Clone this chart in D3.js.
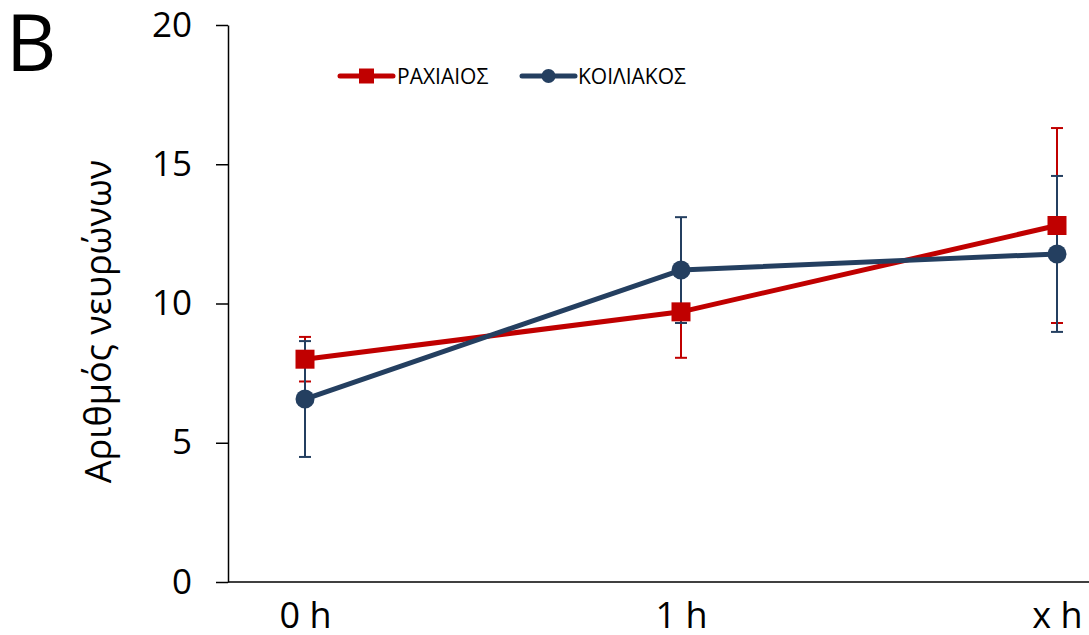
<!DOCTYPE html>
<html>
<head>
<meta charset="utf-8">
<script src="https://cdn.jsdelivr.net/npm/d3@7"></script>
<style>
  body { margin: 0; background: #fff; }
  text { font-family: "Open Sans", "Noto Sans", sans-serif; fill: #000; }
</style>
</head>
<body>
<div id="chart"></div>
<script>
// categories and series
const timePoints = ["0 h", "1 h", "x h"];
const yTicks = [0, 5, 10, 15, 20];

const rachiaiosMean = [8.0, 9.7, 12.8];
const rachiaiosErr = [0.8, 1.65, 3.5];

const koiliakosMean = [6.57, 11.2, 11.78];
const koiliakosErr = [2.08, 1.9, 2.8];

const RED = "#C00000";
const BLUE = "#243F60";

const width = 1089, height = 635;
const margin = {top: 25, right: 32, bottom: 53, left: 228};

const svg = d3.select("#chart").append("svg")
    .attr("width", width)
    .attr("height", height);

// scales
const x = d3.scalePoint()
    .domain(timePoints)
    .range([margin.left + 77, width - margin.right]);

const y = d3.scaleLinear()
    .domain([0, 20])
    .range([height - margin.bottom, margin.top]);

// panel letter
svg.append("text")
    .attr("x", 6)
    .attr("y", 71)
    .style("font-size", "78px")
    .text("B");

// y axis
const yAxis = svg.append("g")
    .attr("transform", `translate(${margin.left},0)`)
    .call(d3.axisLeft(y).tickValues(yTicks).tickSize(12).tickSizeOuter(0).tickPadding(24));
yAxis.select(".domain").attr("stroke", "#000").attr("stroke-width", 1.5);
yAxis.selectAll(".tick line").attr("stroke", "#000").attr("stroke-width", 1.5);
yAxis.selectAll(".tick text").style("font-size", "35px").attr("font-family", null);

// x axis
const xAxis = svg.append("g")
    .attr("transform", `translate(0,${y(0)})`)
    .call(d3.axisBottom(x).tickSize(0).tickPadding(20));
xAxis.select(".domain")
    .attr("d", `M${margin.left},0H${width}`)
    .attr("stroke", "#000").attr("stroke-width", 1.5);
xAxis.selectAll(".tick text").style("font-size", "36px").attr("font-family", null);

// y axis title
svg.append("text")
    .attr("transform", `translate(111,${(y(0) + y(20)) / 2 + 18}) rotate(-90)`)
    .attr("text-anchor", "middle")
    .style("font-size", "36px")
    .text("Αριθμός νευρώνων");

const series = [
  {name: "ΡΑΧΙΑΙΟΣ", color: RED, mean: rachiaiosMean, err: rachiaiosErr, shape: "square"},
  {name: "ΚΟΙΛΙΑΚΟΣ", color: BLUE, mean: koiliakosMean, err: koiliakosErr, shape: "circle"}
];

const rows = s => timePoints.map((t, i) => ({t, m: s.mean[i], e: s.err[i]}));

// error bars first
series.forEach(s => {
  const g = svg.append("g").attr("stroke", s.color).attr("stroke-width", 2);
  const d = rows(s);
  g.selectAll(".bar").data(d).join("line")
      .attr("x1", r => x(r.t)).attr("x2", r => x(r.t))
      .attr("y1", r => y(r.m - r.e)).attr("y2", r => y(r.m + r.e));
  g.selectAll(".capTop").data(d).join("line").attr("class", "capTop")
      .attr("x1", r => x(r.t) - 6).attr("x2", r => x(r.t) + 6)
      .attr("y1", r => y(r.m + r.e)).attr("y2", r => y(r.m + r.e));
  g.selectAll(".capBot").data(d).join("line").attr("class", "capBot")
      .attr("x1", r => x(r.t) - 6).attr("x2", r => x(r.t) + 6)
      .attr("y1", r => y(r.m - r.e)).attr("y2", r => y(r.m - r.e));
});

// lines
const line = d3.line().x(r => x(r.t)).y(r => y(r.m));
series.forEach(s => {
  svg.append("path")
      .datum(rows(s))
      .attr("fill", "none")
      .attr("stroke", s.color)
      .attr("stroke-width", 5)
      .attr("stroke-linejoin", "round")
      .attr("d", line);
});

// markers
series.forEach(s => {
  const sym = d3.symbol()
      .type(s.shape === "square" ? d3.symbolSquare : d3.symbolCircle)
      .size(s.shape === "square" ? 19 * 19 : Math.PI * 9.5 * 9.5);
  svg.append("g").selectAll("path")
      .data(rows(s))
      .join("path")
      .attr("transform", r => `translate(${x(r.t)},${y(r.m)})`)
      .attr("d", sym)
      .attr("fill", s.color);
});

// legend
const legendItems = [
  {x: 340, textX: 397},
  {x: 522, textX: 578}
];
series.forEach((s, i) => {
  const L = legendItems[i];
  const g = svg.append("g").attr("transform", `translate(0,76)`);
  g.append("line")
      .attr("x1", L.x).attr("x2", L.x + 53)
      .attr("y1", 0).attr("y2", 0)
      .attr("stroke", s.color).attr("stroke-width", 5)
      .attr("stroke-linecap", "round");
  const sym = d3.symbol()
      .type(s.shape === "square" ? d3.symbolSquare : d3.symbolCircle)
      .size(s.shape === "square" ? 15 * 15 : Math.PI * 7 * 7);
  g.append("path")
      .attr("transform", `translate(${L.x + 26.5},0)`)
      .attr("d", sym)
      .attr("fill", s.color);
  g.append("text")
      .attr("x", L.textX)
      .attr("y", 7.5)
      .style("font-size", "21px")
      .text(s.name);
});
</script>
</body>
</html>
